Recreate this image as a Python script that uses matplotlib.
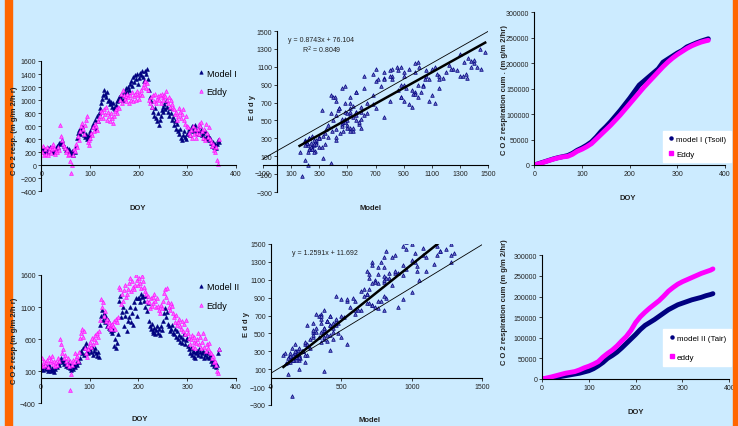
import numpy as np
import matplotlib
matplotlib.use("Agg")
import matplotlib.pyplot as plt
from matplotlib.lines import Line2D
from matplotlib.patches import Rectangle

plt.rcParams['font.family'] = ['Liberation Sans', 'DejaVu Sans']

NAVY = '#000080'
MAGENTA = '#FF00FF'
BG = '#CCEBFF'
ORANGE = '#FF6600'

# day of year, every second day
doy = np.arange(1, 366, 2)

model1 = [
    250, 230, 270, 210, 240, 200, 260, 220, 280, 240,
    230, 210, 250, 200, 230, 260, 300, 280, 340, 320,
    360, 390, 330, 300, 270, 240, 260, 220, 250, 200,
    180, 220, 160, 240, 200, 300, 420, 500, 540, 480,
    560, 600, 520, 470, 430, 480, 410, 450, 420, 470,
    520, 480, 580, 640, 600, 700, 560, 760, 680, 800,
    880, 960, 1020, 1080, 1150, 1100, 1040, 1120, 980, 1000,
    940, 970, 900, 960, 880, 860, 920, 980, 1000, 1040,
    1060, 1010, 1080, 1000, 1100, 1140, 1060, 1180, 1120, 1200,
    1150, 1250, 1300, 1220, 1350, 1280, 1380, 1320, 1400, 1240,
    1340, 1420, 1380, 1450, 1360, 1300, 1440, 1400, 1480, 1330,
    1150, 1050, 980, 900, 820, 760, 880, 720, 680, 800,
    620, 700, 760, 850, 900, 820, 940, 860, 980, 900,
    820, 760, 880, 800, 700, 740, 620, 680, 560, 640,
    520, 480, 560, 420, 380, 460, 520, 440, 400, 480,
    500, 560, 460, 540, 600, 520, 580, 620, 540, 500,
    560, 520, 480, 600, 540, 460, 500, 420, 520, 440,
    400, 460, 380, 420, 340, 300, 360, 280, 320, 260,
    330, 380, 350]

eddy1 = [
    200, 300, 160, 250, 180, 280, 150, 220, 260, 190,
    300, 250, 330, 270, 180, 220, 200, 280, 240, 620,
    450, 380, 330, 300, 260, 200, 240, 150, 180, 60,
    -120, 0, 150, 250, 220, 320, 280, 450, 380, 520,
    600, 650, 560, 480, 620, 700, 760, 360, 310, 380,
    420, 500, 460, 580, 520, 640, 600, 540, 680, 720,
    760, 840, 820, 720, 860, 780, 900, 700, 820, 760,
    680, 800, 720, 650, 760, 840, 860, 800, 900, 880,
    1000, 1100, 960, 1150, 1080, 1020, 1060, 980, 1100, 1040,
    960, 1080, 1000, 1120, 980, 1060, 1100, 1000, 1140, 1080,
    1020, 1100, 1160, 1080, 1200, 1240, 1300, 1180, 1260, 1150,
    1000, 960, 1040, 900, 1080, 980, 1100, 960, 1020, 1060,
    1000, 1080, 960, 1100, 1040, 1000, 1080, 1060, 1140, 1000,
    960, 1040, 900, 1000, 940, 880, 860, 780, 820, 700,
    760, 880, 820, 720, 780, 860, 700, 640, 760, 600,
    580, 500, 460, 540, 420, 600, 480, 560, 420, 500,
    560, 640, 480, 600, 660, 520, 420, 560, 380, 640,
    500, 440, 580, 400, 360, 300, 320, 240, 200, 280,
    80, 20, 400]

model2 = [
    150, 180, 120, 160, 200, 130, 170, 110, 190, 140,
    100, 150, 120, 90, 140, 180, 160, 230, 200, 260,
    300, 240, 280, 220, 260, 180, 210, 170, 240, 200,
    150, 120, 180, 140, 200, 170, 230, 200, 260, 240,
    300, 420, 380, 460, 360, 500, 540, 420, 380, 480,
    440, 400, 480, 360, 420, 460, 380, 340, 400, 320,
    820, 960, 1050, 900, 1000, 860, 940, 800, 900, 780,
    760, 720, 800, 700, 740, 500, 600, 460, 540, 680,
    1200, 1280, 940, 1020, 1100, 800, 960, 1040, 720, 880,
    940, 1100, 860, 1000, 820, 1180, 1080, 1240, 960, 1240,
    1240, 1180, 1300, 1260, 1280, 1200, 1100, 1280, 1040, 1160,
    880, 800, 760, 840, 720, 700, 780, 680, 740, 800,
    700, 760, 660, 800, 740, 880, 1000, 1080, 940, 1020,
    840, 800, 720, 760, 820, 700, 680, 760, 640, 720,
    600, 660, 560, 640, 540, 600, 680, 520, 580, 620,
    500, 440, 380, 460, 360, 420, 320, 400, 300, 380,
    420, 360, 440, 400, 340, 380, 420, 300, 360, 400,
    320, 380, 300, 360, 260, 220, 280, 180, 240, 160,
    200, 380, 440]

eddy2 = [
    220, 300, 180, 260, 200, 240, 280, 170, 320, 250,
    280, 340, 220, 260, 180, 240, 200, 300, 260, 600,
    520, 380, 440, 300, 360, 260, 220, 300, 180, 260,
    -200, 50, 200, 280, 240, 380, 300, 340, 260, 400,
    620, 700, 760, 640, 720, 460, 380, 320, 440, 500,
    560, 480, 620, 520, 600, 660, 560, 700, 640, 720,
    900, 1220, 1100, 1180, 960, 1040, 880, 920, 800, 860,
    780, 820, 760, 840, 800, 880, 760, 920, 860, 940,
    1420, 1380, 1150, 1300, 1200, 1360, 1440, 1250, 1300, 1380,
    1480, 1560, 1350, 1500, 1420, 1380, 1450, 1600, 1520, 1440,
    1560, 1480, 1400, 1580, 1500, 1420, 1350, 1300, 1200, 1280,
    1180, 1080, 1240, 1120, 1260, 1160, 1300, 1200, 1100, 1240,
    1120, 1060, 1000, 1140, 1080, 1200, 1320, 1380, 1260, 1400,
    1180, 1100, 1060, 1160, 1120, 1000, 940, 860, 980, 820,
    860, 920, 800, 760, 880, 720, 840, 680, 900, 760,
    700, 620, 520, 600, 660, 480, 560, 640, 460, 540,
    600, 700, 520, 640, 460, 560, 700, 480, 620, 420,
    520, 460, 540, 400, 380, 300, 340, 240, 260, 200,
    100, 80, 440]

# cumulative respiration, every 10 days
doy_cum = [0, 10, 20, 30, 40, 50, 60, 70, 80, 90, 100, 110, 120, 130, 140,
           150, 160, 170, 180, 190, 200, 210, 220, 230, 240, 250, 260, 270,
           280, 290, 300, 310, 320, 330, 340, 350, 360, 365]
cum_model1 = [0, 3000, 6000, 9000, 12000, 14500, 16500, 18500, 23000, 29000,
              33500, 39000, 45500, 55000, 66000, 75000, 85000, 96000, 107000,
              119000, 131000, 144000, 157000, 165000, 173000, 181000, 189000,
              202000, 208000, 214000, 220000, 225000, 232000, 236000, 240000,
              243500, 246500, 248000]
cum_eddy1 = [0, 2500, 5500, 8500, 11500, 14000, 16000, 17000, 21000, 27000,
             31000, 36000, 42000, 51000, 60000, 69000, 78000, 88000, 98000,
             109000, 120000, 131000, 142000, 153000, 163000, 173000, 183000,
             193000, 202000, 210000, 217000, 223000, 229000, 234000, 238000,
             241500, 244000, 245000]
cum_model2 = [0, 1000, 2500, 4000, 6000, 8000, 10000, 12000, 14000, 17000,
              20000, 25000, 32000, 40000, 50000, 57000, 65000, 75000, 86000,
              97000, 108000, 120000, 130000, 137000, 144000, 152000, 160000,
              168000, 174000, 180000, 184000, 188000, 192000, 195000, 198000,
              202000, 205000, 207000]
cum_eddy2 = [0, 2500, 5000, 8000, 11000, 14000, 16000, 18000, 22000, 27000,
             31000, 36000, 42000, 53000, 62000, 70000, 80000, 92000, 103000,
             118000, 137000, 151000, 162000, 172000, 181000, 190000, 201000,
             213000, 222000, 230000, 236000, 241000, 246000, 251000, 256000,
             260000, 264000, 267000]

# regression equations from the chart, and the thin reference lines
fit1 = (0.8743, 76.104)
fit2 = (1.2591, 11.692)
thin1 = (0.89, 160)
thin2 = (0.96, 54)

W, H = 738, 427
fig = plt.figure(figsize=(W / 100, H / 100), dpi=100, facecolor=BG)
fig.patches.append(Rectangle((5 / W, 0), 7 / W, 1, transform=fig.transFigure,
                             color=ORANGE, zorder=0))
fig.patches.append(Rectangle((733 / W, 0), 5 / W, 1, transform=fig.transFigure,
                             color=ORANGE, zorder=0))


def px_axes(x0, y0, x1, y1):
    # axes from pixel box (left, top, right, bottom)
    ax = fig.add_axes([x0 / W, 1 - y1 / H, (x1 - x0) / W, (y1 - y0) / H])
    ax.set_facecolor('none')
    for s in ['top', 'right']:
        ax.spines[s].set_visible(False)
    ax.spines['left'].set_position(('data', 0))
    ax.spines['bottom'].set_position(('data', 0))
    for s in ['left', 'bottom']:
        ax.spines[s].set_linewidth(0.8)
    ax.tick_params(labelsize=5, length=2.5, width=0.6, pad=1, colors='#222222')
    return ax


def label(x, y, s, rot=0):
    fig.text(x / W, 1 - y / H, s, rotation=rot, ha='center', va='center',
             fontsize=5.5, fontweight='bold', color='#222222')


tri_navy = dict(ls='none', marker='^', ms=2.8, color=NAVY, mec=NAVY, mew=0.4)
tri_mag = dict(ls='none', marker='^', ms=2.8, color='#FF66FF', mec=MAGENTA, mew=0.4)
tri_sc = dict(ls='none', marker='^', ms=2.6, color='#6A6AC0', mec=NAVY, mew=0.5)

# ---- panel 1: time series model I
ax = px_axes(41.3, 62, 236, 192.3)
ax.plot(doy, model1, label='Model I', **tri_navy)
ax.plot(doy, eddy1, label='Eddy', **tri_mag)
ax.set_xlim(0, 400)
ax.set_ylim(-400, 1600)
ax.set_xticks(range(0, 401, 100))
ax.set_yticks(range(-400, 1601, 200))
ax.legend(loc='upper left', bbox_to_anchor=(0.78, 0.97), frameon=False,
          fontsize=6.5, handletextpad=0.1, borderaxespad=0, labelspacing=1.1,
          handlelength=1.0, markerscale=0.9)
label(15, 131, 'C O 2 resp. (m g/m 2/h r)', 90)
label(138, 209, 'DOY')

# ---- panel 2: scatter model I vs eddy
ax = px_axes(263, 32, 488, 193)
ax.plot(model1, eddy1, **tri_sc)
xs = np.array([min(model1), max(model1)])
ax.plot(xs, fit1[0] * xs + fit1[1], color='black', lw=1.8)
xr = np.array([-110, 1510])
ax.plot(xr, thin1[0] * xr + thin1[1], color='black', lw=0.6)
ax.set_xlim(-100, 1500)
ax.set_ylim(-300, 1500)
ax.set_xticks(range(-100, 1501, 200))
ax.set_yticks(range(-300, 1501, 200))
ax.text(0.11, 0.935, 'y = %.4fx + %.3f' % fit1, transform=ax.transAxes,
        fontsize=5, color='#222222')
ax.text(0.175, 0.865, 'R$^2$ = 0.8049', transform=ax.transAxes,
        fontsize=5, color='#222222')
label(253, 108, 'E d d y', 90)
label(371, 209, 'Model')

# ---- panel 3: cumulative model I
ax = px_axes(534.3, 13.3, 725, 166)
ax.plot(doy_cum, cum_model1, color=NAVY, lw=3.5, solid_capstyle='round')
ax.plot(doy_cum, cum_eddy1, color=MAGENTA, lw=3.5, solid_capstyle='round')
ax.set_xlim(0, 400)
ax.set_ylim(0, 300000)
ax.set_xticks(range(0, 401, 100))
ax.set_yticks(range(0, 300001, 50000))
hd = [Line2D([], [], ls='none', marker='o', ms=2.2, color=NAVY),
      Line2D([], [], ls='none', marker='s', ms=2.2, color=MAGENTA)]
ax.legend(hd, ['model I (Tsoil)', 'Eddy'], loc='lower left',
          bbox_to_anchor=(0.675, 0.02), fontsize=5.8, frameon=True,
          fancybox=False, edgecolor='white', framealpha=1,
          handletextpad=0.1, handlelength=1.0, labelspacing=0.9,
          borderpad=0.55, borderaxespad=0)
label(504, 90, 'C O 2 respiration cum . (m g/m 2/hr)', 90)
label(628, 199, 'DOY')

# ---- panel 4: time series model II
ax = px_axes(40.7, 276, 236, 404.3)
ax.plot(doy, model2, label='Model II', **tri_navy)
ax.plot(doy, eddy2, label='Eddy', **tri_mag)
ax.set_xlim(0, 400)
ax.set_ylim(-400, 1600)
ax.set_xticks(range(0, 401, 100))
ax.set_yticks(range(-400, 1601, 500))
ax.legend(loc='upper left', bbox_to_anchor=(0.78, 0.97), frameon=False,
          fontsize=6.5, handletextpad=0.1, borderaxespad=0, labelspacing=1.1,
          handlelength=1.0, markerscale=0.9)
label(15, 341, 'C O 2 resp (m g/m 2/h r)', 90)
label(140, 420, 'DOY')

# ---- panel 5: scatter model II vs eddy
ax = px_axes(270.7, 245, 482.3, 406)
ax.plot(model2, eddy2, **tri_sc)
xs = np.array([min(model2), max(model2)])
ax.plot(xs, fit2[0] * xs + fit2[1], color='black', lw=1.8)
xr = np.array([0, 1500])
ax.plot(xr, thin2[0] * xr + thin2[1], color='black', lw=0.6)
ax.set_xlim(0, 1500)
ax.set_ylim(-300, 1500)
ax.set_xticks(range(0, 1501, 500))
ax.set_yticks(range(-300, 1501, 200))
ax.text(0.1, 0.935, 'y = %.4fx + %.3f' % fit2, transform=ax.transAxes,
        fontsize=5, color='#222222')
label(246, 325, 'E d d y', 90)
label(370, 421, 'Model')

# ---- panel 6: cumulative model II
ax = px_axes(542, 256.3, 729.3, 380)
ax.plot(doy_cum, cum_model2, color=NAVY, lw=3.5, solid_capstyle='round')
ax.plot(doy_cum, cum_eddy2, color=MAGENTA, lw=3.5, solid_capstyle='round')
ax.set_xlim(0, 400)
ax.set_ylim(0, 300000)
ax.set_xticks(range(0, 401, 100))
ax.set_yticks(range(0, 300001, 50000))
ax.legend(hd, ['model II (Tair)', 'eddy'], loc='lower left',
          bbox_to_anchor=(0.645, 0.107), fontsize=5.8, frameon=True,
          fancybox=False, edgecolor='white', framealpha=1,
          handletextpad=0.1, handlelength=1.0, labelspacing=1.4,
          borderpad=0.65, borderaxespad=0)
label(504, 302, 'C O 2 respiration cum (m g/m 2/hr)', 90)
label(636, 413, 'DOY')

fig.savefig('out.png', dpi=100, facecolor=BG)
